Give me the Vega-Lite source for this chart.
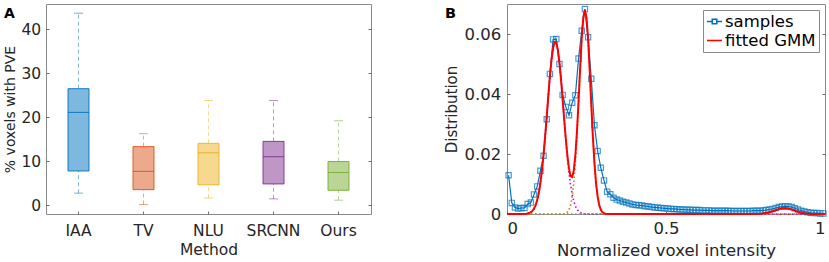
{
  "$schema": "https://vega.github.io/schema/vega-lite/v6.json",
  "padding": {"left": 3, "top": 3, "right": 0, "bottom": 0},
  "spacing": 72,
  "resolve": {"scale": {"color": "independent", "stroke": "independent"}, "legend": {"color": "independent"}},
  "config": {
    "font": "DejaVu Sans",
    "view": {"stroke": "#8a8a8a", "strokeWidth": 1},
    "axis": {
      "labelFont": "DejaVu Sans", "labelFontSize": 15.5, "labelColor": "#262626",
      "titleFont": "DejaVu Sans", "titleFontSize": 15.5, "titleFontWeight": "normal", "titleColor": "#262626",
      "domain": false, "grid": false, "tickColor": "#6e6e6e", "tickSize": -3
    }
  },
  "datasets": {
    "boxes": [
      {"method": "IAA", "lo": 2.7, "q1": 7.75, "med": 21.1, "q3": 26.5, "hi": 43.7},
      {"method": "TV", "lo": 0.1, "q1": 3.5, "med": 7.67, "q3": 13.3, "hi": 16.25},
      {"method": "NLU", "lo": 1.6, "q1": 4.6, "med": 11.9, "q3": 14.05, "hi": 23.8},
      {"method": "SRCNN", "lo": 1.4, "q1": 4.8, "med": 11.0, "q3": 14.5, "hi": 23.8},
      {"method": "Ours", "lo": 1.1, "q1": 3.35, "med": 7.4, "q3": 9.9, "hi": 19.2}
    ],
    "samples": [
      {"x": 0.005, "y": 0.0129}, {"x": 0.015, "y": 0.0037}, {"x": 0.025, "y": 0.0022}, {"x": 0.035, "y": 0.0018},
      {"x": 0.045, "y": 0.0020}, {"x": 0.055, "y": 0.0020}, {"x": 0.065, "y": 0.0033}, {"x": 0.075, "y": 0.0038},
      {"x": 0.085, "y": 0.0065}, {"x": 0.095, "y": 0.0092}, {"x": 0.105, "y": 0.0144}, {"x": 0.115, "y": 0.0194},
      {"x": 0.125, "y": 0.0316}, {"x": 0.135, "y": 0.0467}, {"x": 0.145, "y": 0.0582}, {"x": 0.155, "y": 0.0583},
      {"x": 0.165, "y": 0.0500}, {"x": 0.175, "y": 0.0397}, {"x": 0.185, "y": 0.0357}, {"x": 0.195, "y": 0.0329},
      {"x": 0.205, "y": 0.0371}, {"x": 0.215, "y": 0.0396}, {"x": 0.225, "y": 0.0518}, {"x": 0.235, "y": 0.0611},
      {"x": 0.245, "y": 0.0683}, {"x": 0.255, "y": 0.0589}, {"x": 0.265, "y": 0.0451}, {"x": 0.275, "y": 0.0296},
      {"x": 0.285, "y": 0.0210}, {"x": 0.295, "y": 0.0154}, {"x": 0.305, "y": 0.0112}, {"x": 0.315, "y": 0.0074},
      {"x": 0.325, "y": 0.0066}, {"x": 0.335, "y": 0.0054}, {"x": 0.345, "y": 0.0048}, {"x": 0.355, "y": 0.0045},
      {"x": 0.365, "y": 0.0041}, {"x": 0.375, "y": 0.0038}, {"x": 0.385, "y": 0.0035}, {"x": 0.395, "y": 0.0032},
      {"x": 0.405, "y": 0.0030}, {"x": 0.415, "y": 0.0029}, {"x": 0.425, "y": 0.0028}, {"x": 0.435, "y": 0.0026},
      {"x": 0.445, "y": 0.0025}, {"x": 0.455, "y": 0.0023}, {"x": 0.465, "y": 0.0022}, {"x": 0.475, "y": 0.0021},
      {"x": 0.485, "y": 0.0020}, {"x": 0.495, "y": 0.0019}, {"x": 0.505, "y": 0.0018}, {"x": 0.515, "y": 0.0017},
      {"x": 0.525, "y": 0.0017}, {"x": 0.535, "y": 0.0016}, {"x": 0.545, "y": 0.0015}, {"x": 0.555, "y": 0.0015},
      {"x": 0.565, "y": 0.0014}, {"x": 0.575, "y": 0.0014}, {"x": 0.585, "y": 0.0013}, {"x": 0.595, "y": 0.0013},
      {"x": 0.605, "y": 0.0013}, {"x": 0.615, "y": 0.0012}, {"x": 0.625, "y": 0.0012}, {"x": 0.635, "y": 0.0012},
      {"x": 0.645, "y": 0.0011}, {"x": 0.655, "y": 0.0011}, {"x": 0.665, "y": 0.0011}, {"x": 0.675, "y": 0.0011},
      {"x": 0.685, "y": 0.0011}, {"x": 0.695, "y": 0.0011}, {"x": 0.705, "y": 0.0010}, {"x": 0.715, "y": 0.0010},
      {"x": 0.725, "y": 0.0010}, {"x": 0.735, "y": 0.0010}, {"x": 0.745, "y": 0.0010}, {"x": 0.755, "y": 0.0010},
      {"x": 0.765, "y": 0.0010}, {"x": 0.775, "y": 0.0011}, {"x": 0.785, "y": 0.0011}, {"x": 0.795, "y": 0.0011},
      {"x": 0.805, "y": 0.0012}, {"x": 0.815, "y": 0.0013}, {"x": 0.825, "y": 0.0015}, {"x": 0.835, "y": 0.0017},
      {"x": 0.845, "y": 0.0020}, {"x": 0.855, "y": 0.0023}, {"x": 0.865, "y": 0.0025}, {"x": 0.875, "y": 0.0026},
      {"x": 0.885, "y": 0.0025}, {"x": 0.895, "y": 0.0023}, {"x": 0.905, "y": 0.0019}, {"x": 0.915, "y": 0.0015},
      {"x": 0.925, "y": 0.0011}, {"x": 0.935, "y": 0.0008}, {"x": 0.945, "y": 0.0006}, {"x": 0.955, "y": 0.0004},
      {"x": 0.965, "y": 0.0003}, {"x": 0.975, "y": 0.0003}, {"x": 0.985, "y": 0.0002}, {"x": 0.995, "y": 0.0002}
    ],
    "gmm": [
      {"x": 0, "g": 0, "c1": 0, "c2": 0, "c3": 0},
      {"x": 0.05, "g": 0.00002, "c1": 0.00002, "c2": 0, "c3": 0},
      {"x": 0.06, "g": 0.00008, "c1": 0.00008, "c2": 0, "c3": 0},
      {"x": 0.065, "g": 0.00016, "c1": 0.00016, "c2": 0, "c3": 0},
      {"x": 0.07, "g": 0.00031, "c1": 0.00031, "c2": 0, "c3": 0},
      {"x": 0.075, "g": 0.00058, "c1": 0.00058, "c2": 0, "c3": 0},
      {"x": 0.08, "g": 0.00103, "c1": 0.00103, "c2": 0, "c3": 0},
      {"x": 0.085, "g": 0.00177, "c1": 0.00177, "c2": 0, "c3": 0},
      {"x": 0.09, "g": 0.00292, "c1": 0.00292, "c2": 0, "c3": 0},
      {"x": 0.095, "g": 0.00463, "c1": 0.00463, "c2": 0, "c3": 0},
      {"x": 0.1, "g": 0.00707, "c1": 0.00707, "c2": 0, "c3": 0},
      {"x": 0.105, "g": 0.01038, "c1": 0.01038, "c2": 0, "c3": 0},
      {"x": 0.11, "g": 0.01465, "c1": 0.01465, "c2": 0, "c3": 0},
      {"x": 0.115, "g": 0.0199, "c1": 0.0199, "c2": 0, "c3": 0},
      {"x": 0.12, "g": 0.026, "c1": 0.026, "c2": 0, "c3": 0},
      {"x": 0.125, "g": 0.0327, "c1": 0.0327, "c2": 0, "c3": 0},
      {"x": 0.13, "g": 0.0395, "c1": 0.0395, "c2": 0, "c3": 0},
      {"x": 0.135, "g": 0.046, "c1": 0.046, "c2": 0, "c3": 0},
      {"x": 0.14, "g": 0.0514, "c1": 0.0514, "c2": 0, "c3": 0},
      {"x": 0.145, "g": 0.0554, "c1": 0.0554, "c2": 0, "c3": 0},
      {"x": 0.15, "g": 0.0573, "c1": 0.0573, "c2": 0, "c3": 0},
      {"x": 0.155, "g": 0.0571, "c1": 0.0571, "c2": 0, "c3": 0},
      {"x": 0.16, "g": 0.0547, "c1": 0.0547, "c2": 0, "c3": 0},
      {"x": 0.165, "g": 0.0504, "c1": 0.0504, "c2": 0, "c3": 0},
      {"x": 0.17, "g": 0.0447, "c1": 0.0447, "c2": 0, "c3": 0},
      {"x": 0.175, "g": 0.0382, "c1": 0.0382, "c2": 0.00004, "c3": 0},
      {"x": 0.18, "g": 0.0314, "c1": 0.0313, "c2": 0.0001, "c3": 0},
      {"x": 0.185, "g": 0.025, "c1": 0.0247, "c2": 0.00026, "c3": 0},
      {"x": 0.19, "g": 0.0194, "c1": 0.0188, "c2": 0.00064, "c3": 0},
      {"x": 0.195, "g": 0.0151, "c1": 0.0137, "c2": 0.00144, "c3": 0},
      {"x": 0.2, "g": 0.0126, "c1": 0.00964, "c2": 0.00299, "c3": 0},
      {"x": 0.205, "g": 0.0123, "c1": 0.00651, "c2": 0.00576, "c3": 0},
      {"x": 0.21, "g": 0.0145, "c1": 0.00424, "c2": 0.01027, "c3": 0},
      {"x": 0.215, "g": 0.0196, "c1": 0.00265, "c2": 0.01696, "c3": 0},
      {"x": 0.22, "g": 0.0275, "c1": 0.00159, "c2": 0.0259, "c3": 0},
      {"x": 0.225, "g": 0.0376, "c1": 0.00092, "c2": 0.0367, "c3": 0},
      {"x": 0.23, "g": 0.0486, "c1": 0.00051, "c2": 0.0481, "c3": 0},
      {"x": 0.235, "g": 0.0586, "c1": 0.00028, "c2": 0.0583, "c3": 0},
      {"x": 0.24, "g": 0.0655, "c1": 0.00014, "c2": 0.0654, "c3": 0},
      {"x": 0.245, "g": 0.0681, "c1": 0.00007, "c2": 0.068, "c3": 0},
      {"x": 0.25, "g": 0.0654, "c1": 0.00003, "c2": 0.0654, "c3": 0},
      {"x": 0.255, "g": 0.0583, "c1": 0, "c2": 0.0583, "c3": 0},
      {"x": 0.26, "g": 0.0481, "c1": 0, "c2": 0.0481, "c3": 0},
      {"x": 0.265, "g": 0.0367, "c1": 0, "c2": 0.0367, "c3": 0},
      {"x": 0.27, "g": 0.0259, "c1": 0, "c2": 0.0259, "c3": 0},
      {"x": 0.275, "g": 0.017, "c1": 0, "c2": 0.017, "c3": 0},
      {"x": 0.28, "g": 0.0103, "c1": 0, "c2": 0.0103, "c3": 0},
      {"x": 0.285, "g": 0.0058, "c1": 0, "c2": 0.0058, "c3": 0},
      {"x": 0.29, "g": 0.003, "c1": 0, "c2": 0.003, "c3": 0},
      {"x": 0.295, "g": 0.0014, "c1": 0, "c2": 0.0014, "c3": 0},
      {"x": 0.3, "g": 0.0006, "c1": 0, "c2": 0.0006, "c3": 0},
      {"x": 0.305, "g": 0.0003, "c1": 0, "c2": 0.0003, "c3": 0},
      {"x": 0.31, "g": 0.0001, "c1": 0, "c2": 0.0001, "c3": 0},
      {"x": 0.32, "g": 0, "c1": 0, "c2": 0, "c3": 0},
      {"x": 0.5, "g": 0, "c1": 0, "c2": 0, "c3": 0},
      {"x": 0.75, "g": 0, "c1": 0, "c2": 0, "c3": 0},
      {"x": 0.78, "g": 0.00002, "c1": 0, "c2": 0, "c3": 0.00002},
      {"x": 0.8, "g": 0.0001, "c1": 0, "c2": 0, "c3": 0.0001},
      {"x": 0.82, "g": 0.00042, "c1": 0, "c2": 0, "c3": 0.00042},
      {"x": 0.84, "g": 0.00109, "c1": 0, "c2": 0, "c3": 0.00109},
      {"x": 0.86, "g": 0.00182, "c1": 0, "c2": 0, "c3": 0.00182},
      {"x": 0.873, "g": 0.002, "c1": 0, "c2": 0, "c3": 0.002},
      {"x": 0.88, "g": 0.00195, "c1": 0, "c2": 0, "c3": 0.00195},
      {"x": 0.9, "g": 0.00133, "c1": 0, "c2": 0, "c3": 0.00133},
      {"x": 0.92, "g": 0.00059, "c1": 0, "c2": 0, "c3": 0.00059},
      {"x": 0.94, "g": 0.00017, "c1": 0, "c2": 0, "c3": 0.00017},
      {"x": 0.96, "g": 0.00003, "c1": 0, "c2": 0, "c3": 0.00003},
      {"x": 0.98, "g": 0, "c1": 0, "c2": 0, "c3": 0},
      {"x": 1.0, "g": 0, "c1": 0, "c2": 0, "c3": 0}
    ]
  },
  "hconcat": [
    {
      "width": 325,
      "height": 210,
      "title": {"text": "A", "anchor": "start", "frame": "group", "orient": "top", "offset": -17, "baseline": "top", "dx": -42, "fontSize": 14, "fontWeight": "bold", "font": "DejaVu Sans", "color": "#000000"},
      "data": {"name": "boxes"},
      "encoding": {
        "x": {"field": "method", "type": "nominal", "sort": null, "scale": {"paddingInner": 0, "paddingOuter": 0},
              "axis": {"labelAngle": 0, "title": "Method", "labelPadding": 12, "titlePadding": 3.5}},
        "color": {"field": "method", "type": "nominal", "sort": null,
                  "scale": {"domain": ["IAA", "TV", "NLU", "SRCNN", "Ours"], "range": ["#0072BD", "#D95319", "#EDB120", "#7E2F8E", "#77AC30"]},
                  "legend": null}
      },
      "layer": [
        {
          "mark": {"type": "rule", "strokeDash": [4, 3], "opacity": 0.5, "strokeWidth": 1},
          "encoding": {
            "y": {"field": "lo", "type": "quantitative", "scale": {"domain": [-2.05, 45.8], "nice": false, "zero": false},
                  "axis": {"values": [0, 10, 20, 30, 40], "title": "% voxels with PVE", "titleFontSize": 14, "labelPadding": 8.3, "titlePadding": 3}},
            "y2": {"field": "q1"}
          }
        },
        {
          "mark": {"type": "rule", "strokeDash": [4, 3], "opacity": 0.5, "strokeWidth": 1},
          "encoding": {"y": {"field": "q3", "type": "quantitative", "axis": null}, "y2": {"field": "hi"}}
        },
        {
          "mark": {"type": "tick", "opacity": 0.55, "size": 9, "thickness": 1},
          "encoding": {"y": {"field": "lo", "type": "quantitative", "axis": null}}
        },
        {
          "mark": {"type": "tick", "opacity": 0.55, "size": 9, "thickness": 1},
          "encoding": {"y": {"field": "hi", "type": "quantitative", "axis": null}}
        },
        {
          "mark": {"type": "bar", "size": 21, "fillOpacity": 0.5, "strokeWidth": 1, "strokeOpacity": 0.9},
          "encoding": {
            "y": {"field": "q1", "type": "quantitative", "axis": null},
            "y2": {"field": "q3"},
            "stroke": {"field": "method", "type": "nominal", "sort": null,
                       "scale": {"domain": ["IAA", "TV", "NLU", "SRCNN", "Ours"], "range": ["#0072BD", "#D95319", "#EDB120", "#7E2F8E", "#77AC30"]},
                       "legend": null}
          }
        },
        {
          "mark": {"type": "tick", "size": 21, "thickness": 1, "opacity": 0.9},
          "encoding": {"y": {"field": "med", "type": "quantitative", "axis": null}}
        },
        {
          "mark": {"type": "tick", "opacity": 0},
          "encoding": {"y": {"field": "med", "type": "quantitative",
                             "axis": {"orient": "right", "labels": false, "title": null, "values": [0, 10, 20, 30, 40]}}}
        }
      ],
      "resolve": {"axis": {"y": "independent"}}
    },
    {
      "width": 318,
      "height": 210,
      "title": {"text": "B", "anchor": "start", "frame": "group", "orient": "top", "offset": -17, "baseline": "top", "dx": -62, "fontSize": 14.5, "fontWeight": "bold", "font": "DejaVu Sans", "color": "#000000"},
      "encoding": {
        "x": {"field": "x", "type": "quantitative", "scale": {"domain": [0, 1], "nice": false},
              "axis": {"values": [0, 0.5, 1], "format": "~g", "title": "Normalized voxel intensity", "labelFontSize": 16.5, "titleFontSize": 16.5, "labelPadding": 9.3, "titlePadding": 5.5}}
      },
      "layer": [
        {
          "data": {"name": "gmm"},
          "mark": {"type": "line", "color": "#C800C8", "strokeDash": [1.5, 2.5], "strokeWidth": 1.6},
          "encoding": {
            "y": {"field": "c1", "type": "quantitative", "scale": {"domain": [0, 0.07], "nice": false},
                  "axis": {"values": [0, 0.02, 0.04, 0.06], "format": "~g", "title": "Distribution", "labelFontSize": 16.5, "titleFontSize": 15, "labelPadding": 9.3, "titlePadding": 4}}
          }
        },
        {
          "data": {"name": "gmm"},
          "mark": {"type": "line", "color": "#E07A1A", "strokeDash": [1.5, 2.5], "strokeWidth": 1.6},
          "encoding": {"y": {"field": "c2", "type": "quantitative", "axis": null}}
        },
        {
          "data": {"name": "gmm"},
          "mark": {"type": "line", "color": "#77AC30", "strokeDash": [1.5, 2.5], "strokeWidth": 1.6},
          "encoding": {"y": {"field": "c3", "type": "quantitative", "axis": null}}
        },
        {
          "data": {"name": "samples"},
          "mark": {"type": "line", "strokeWidth": 1.2},
          "encoding": {
            "y": {"field": "y", "type": "quantitative", "axis": null},
            "color": {"datum": "samples", "type": "nominal",
                      "scale": {"domain": ["samples", "fitted GMM"], "range": ["#0072BD", "#FF0000"]},
                      "legend": {"title": null, "orient": "top-right", "offset": 6,
                                 "symbolType": "stroke", "symbolSize": 225, "symbolStrokeWidth": 1.6,
                                 "labelFont": "DejaVu Sans", "labelFontSize": 16.5, "labelColor": "#000000", "labelOffset": 2,
                                 "strokeColor": "#8a8a8a", "fillColor": "#ffffff", "padding": 3, "rowPadding": 2, "cornerRadius": 0,
                                 "encode": {"symbols": {"update": {
                                   "shape": {"signal": "datum.value === 'samples' ? 'M-1,0H-0.3M0.3,0H1M-0.3,-0.3H0.3V0.3H-0.3Z' : 'stroke'"},
                                   "fill": {"value": "transparent"}}}}}}
          }
        },
        {
          "data": {"name": "samples"},
          "mark": {"type": "point", "shape": "square", "filled": false, "color": "#0072BD", "size": 28, "strokeWidth": 1.2},
          "encoding": {"y": {"field": "y", "type": "quantitative", "axis": null}}
        },
        {
          "data": {"name": "gmm"},
          "mark": {"type": "line", "strokeWidth": 2},
          "encoding": {
            "y": {"field": "g", "type": "quantitative", "axis": null},
            "color": {"datum": "fitted GMM", "type": "nominal"}
          }
        },
        {
          "data": {"name": "gmm"},
          "mark": {"type": "line", "opacity": 0},
          "encoding": {"y": {"field": "g", "type": "quantitative",
                             "axis": {"orient": "right", "labels": false, "title": null, "values": [0, 0.02, 0.04, 0.06]}}}
        }
      ],
      "resolve": {"axis": {"y": "independent"}}
    }
  ]
}
